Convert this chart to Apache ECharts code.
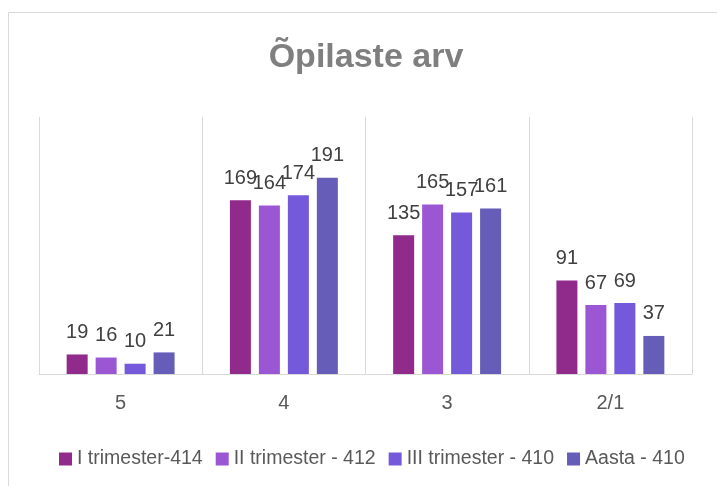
<!DOCTYPE html>
<html>
<head>
<meta charset="utf-8">
<script src="https://cdn.jsdelivr.net/npm/echarts@6/dist/echarts.min.js"></script>
<style>
  html, body { margin: 0; padding: 0; background: #fff; }
  #chart { width: 717px; height: 486px; }
</style>
</head>
<body>
<div id="chart"></div>
<script>
// kategooriad (hinded) ja seeriad
const categories = ['5', '4', '3', '2/1'];
const seriesNames = ['I trimester-414', 'II trimester - 412', 'III trimester - 410', 'Aasta - 410'];
const trimester1 = [19, 169, 135, 91];
const trimester2 = [16, 164, 165, 67];
const trimester3 = [10, 174, 157, 69];
const aasta = [21, 191, 161, 37];
const colors = ['#902a8b', '#9b56d3', '#7459da', '#655db8'];

const font = "'Liberation Sans', Arial, sans-serif";
const allData = [trimester1, trimester2, trimester3, aasta];

let chartConfig = {
  color: colors,
  animation: false,
  title: {
    text: 'Õpilaste arv',
    left: 361,
    textAlign: 'center',
    top: 36,
    textStyle: {
      fontFamily: font,
      fontWeight: 'bold',
      fontSize: 34,
      color: '#7f7f7f'
    }
  },
  graphic: [{
    type: 'rect',
    shape: { x: 8.5, y: 12.5, width: 760, height: 520 },
    style: { fill: 'none', stroke: '#d9d9d9', lineWidth: 1 },
    silent: true
  }],
  legend: {
    data: seriesNames,
    top: 444,
    left: 54,
    itemWidth: 13,
    itemHeight: 13,
    itemGap: 13,
    icon: 'rect',
    textStyle: {
      fontFamily: font,
      fontSize: 19.5,
      color: '#595959',
      padding: [0, 0, 0, 0]
    }
  },
  grid: {
    left: 39,
    right: 25,
    top: 117,
    bottom: 112
  },
  xAxis: {
    type: 'category',
    data: categories,
    axisLine: { lineStyle: { color: '#d9d9d9', width: 1 } },
    axisTick: { show: false },
    splitLine: { show: true, lineStyle: { color: '#d9d9d9', width: 1 } },
    axisLabel: {
      fontFamily: font,
      fontSize: 20,
      color: '#595959',
      margin: 19
    }
  },
  yAxis: {
    type: 'value',
    min: 0,
    max: 250,
    interval: 50,
    axisLabel: { show: false },
    axisLine: { show: false },
    axisTick: { show: false },
    splitLine: { show: false }
  },
  series: []
};

chartConfig.series = seriesNames.map((name, i) => ({
  name: name,
  type: 'bar',
  data: allData[i],
  barWidth: 21,
  barGap: '38%',
  itemStyle: { color: colors[i] },
  label: {
    show: true,
    position: 'top',
    distance: 12,
    fontFamily: font,
    fontSize: 20,
    color: '#404040'
  }
}));

let chart = echarts.init(document.getElementById('chart'));
chart.setOption(chartConfig);
window.addEventListener('resize', function () {
  chart.resize();
});
</script>
</body>
</html>
